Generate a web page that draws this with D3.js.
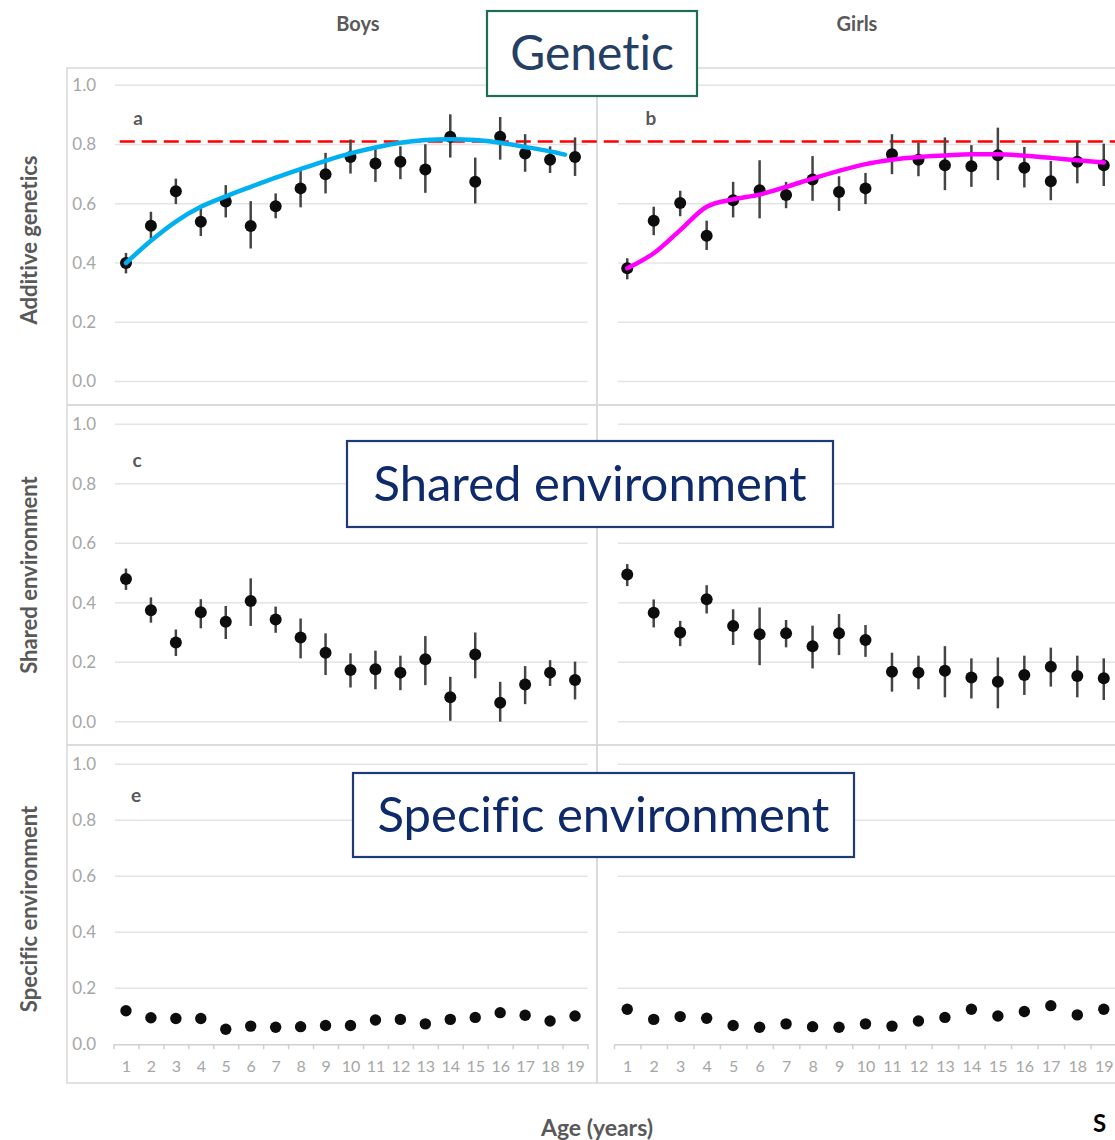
<!DOCTYPE html>
<html>
<head>
<meta charset="utf-8">
<script src="https://cdn.jsdelivr.net/npm/d3@7"></script>
<style>
  body { margin: 0; background: #fff; }
  text { font-family: Lato, "Open Sans", sans-serif; font-variant-ligatures: none; }
</style>
</head>
<body>
<svg id="chart"></svg>
<script>
// ages on the x axis
const ages = [1, 2, 3, 4, 5, 6, 7, 8, 9, 10, 11, 12, 13, 14, 15, 16, 17, 18, 19];
const yTicks = [0, 0.2, 0.4, 0.6, 0.8, 1.0];

// a / b : additive genetics
const boysGenetic     = [0.400, 0.526, 0.642, 0.539, 0.608, 0.525, 0.592, 0.652, 0.700, 0.758, 0.736, 0.742, 0.716, 0.826, 0.674, 0.826, 0.770, 0.749, 0.758];
const boysGeneticLow  = [0.365, 0.483, 0.599, 0.491, 0.554, 0.449, 0.551, 0.588, 0.635, 0.702, 0.674, 0.683, 0.637, 0.756, 0.601, 0.749, 0.708, 0.704, 0.694];
const boysGeneticHigh = [0.434, 0.573, 0.685, 0.584, 0.663, 0.609, 0.635, 0.713, 0.772, 0.817, 0.792, 0.794, 0.801, 0.902, 0.756, 0.893, 0.835, 0.794, 0.824];

const girlsGenetic     = [0.382, 0.543, 0.603, 0.492, 0.612, 0.646, 0.630, 0.682, 0.640, 0.652, 0.767, 0.749, 0.730, 0.727, 0.764, 0.722, 0.676, 0.742, 0.730];
const girlsGeneticLow  = [0.345, 0.494, 0.558, 0.444, 0.554, 0.551, 0.585, 0.610, 0.576, 0.599, 0.700, 0.693, 0.646, 0.657, 0.680, 0.655, 0.612, 0.669, 0.660];
const girlsGeneticHigh = [0.416, 0.590, 0.644, 0.543, 0.674, 0.747, 0.674, 0.761, 0.693, 0.704, 0.835, 0.806, 0.824, 0.798, 0.857, 0.792, 0.745, 0.809, 0.803];

// c / d : shared environment
const boysShared     = [0.480, 0.375, 0.266, 0.368, 0.336, 0.406, 0.344, 0.283, 0.232, 0.174, 0.176, 0.165, 0.210, 0.082, 0.226, 0.064, 0.125, 0.165, 0.140];
const boysSharedLow  = [0.443, 0.333, 0.221, 0.314, 0.278, 0.322, 0.299, 0.213, 0.157, 0.115, 0.109, 0.106, 0.123, 0.003, 0.146, 0.000, 0.059, 0.120, 0.075];
const boysSharedHigh = [0.515, 0.418, 0.310, 0.412, 0.389, 0.482, 0.387, 0.347, 0.297, 0.230, 0.239, 0.222, 0.288, 0.151, 0.300, 0.134, 0.187, 0.207, 0.202];

const girlsShared     = [0.495, 0.366, 0.300, 0.412, 0.322, 0.294, 0.297, 0.254, 0.297, 0.275, 0.168, 0.165, 0.171, 0.149, 0.134, 0.157, 0.185, 0.154, 0.146];
const girlsSharedLow  = [0.456, 0.317, 0.254, 0.364, 0.258, 0.190, 0.250, 0.179, 0.224, 0.218, 0.101, 0.109, 0.082, 0.078, 0.045, 0.090, 0.118, 0.082, 0.073];
const girlsSharedHigh = [0.530, 0.411, 0.339, 0.459, 0.378, 0.384, 0.342, 0.323, 0.362, 0.325, 0.232, 0.222, 0.254, 0.213, 0.216, 0.222, 0.249, 0.222, 0.213];

// e / f : specific environment
const boysSpecific  = [0.120, 0.095, 0.092, 0.092, 0.054, 0.065, 0.061, 0.063, 0.067, 0.067, 0.087, 0.089, 0.073, 0.089, 0.096, 0.113, 0.104, 0.083, 0.101];
const girlsSpecific = [0.125, 0.089, 0.099, 0.093, 0.067, 0.061, 0.073, 0.063, 0.061, 0.073, 0.065, 0.083, 0.096, 0.125, 0.101, 0.117, 0.138, 0.105, 0.125];

// hand drawn trend curves over the genetic panels
const boysTrendAges  = [1, 2, 3, 4, 5, 6, 7, 8, 9, 10, 11, 12, 13, 14, 15, 16, 17, 18, 18.6];
const boysTrend      = [0.400, 0.475, 0.540, 0.590, 0.625, 0.657, 0.688, 0.717, 0.745, 0.770, 0.790, 0.806, 0.815, 0.818, 0.815, 0.806, 0.792, 0.777, 0.766];
const girlsTrendAges = [1, 2, 3, 4, 5, 6, 7, 8, 9, 10, 11, 12, 13, 14, 15, 16, 17, 18, 19];
const girlsTrend     = [0.382, 0.433, 0.511, 0.590, 0.615, 0.631, 0.657, 0.685, 0.711, 0.734, 0.749, 0.758, 0.763, 0.767, 0.767, 0.762, 0.755, 0.747, 0.739];
const adultHeritability = 0.81;

const width = 1115, height = 1140;
const svg = d3.select('#chart').attr('width', width).attr('height', height);

// x scales for the two columns
const xBoys = d3.scaleLinear().domain([0.5, 19.5]).range([113.5, 587.5]);
const xGirls = d3.scaleLinear().domain([0.5, 19.5]).range([614, 1117]);
// y scales for the three rows
const yRows = [
  d3.scaleLinear().domain([0, 1]).range([381.5, 85.3]),
  d3.scaleLinear().domain([0, 1]).range([721.7, 424.3]),
  d3.scaleLinear().domain([0, 1]).range([1044.3, 764.3])
];
const rowFrames = [[68, 405], [405, 745], [745, 1083]];
const columns = [
  {x: xBoys, left: 67, right: 597, gridStart: 115, labels: true},
  {x: xGirls, left: 597, right: 1135, gridStart: 618, labels: false}
];

const fmt = d3.format('.1f');
const labelGrey = '#595959';

// frames + gridlines
rowFrames.forEach((fr, r) => {
  columns.forEach(col => {
    svg.append('rect')
      .attr('x', col.left).attr('y', fr[0])
      .attr('width', col.right - col.left).attr('height', fr[1] - fr[0])
      .attr('fill', 'none').attr('stroke', '#d9d9d9').attr('stroke-width', 1.5);

    const y = yRows[r];
    svg.append('g').selectAll('line')
      .data(r === 2 ? yTicks.slice(1) : yTicks)
      .join('line')
      .attr('x1', col.gridStart).attr('x2', col.x.range()[1])
      .attr('y1', d => y(d)).attr('y2', d => y(d))
      .attr('stroke', '#e4e4e4').attr('stroke-width', 1.5);

    if (col.labels) {
      svg.append('g').selectAll('text')
        .data(yTicks)
        .join('text')
        .attr('x', 96).attr('y', d => y(d))
        .attr('dy', '0.35em')
        .attr('text-anchor', 'end')
        .attr('font-size', 17)
        .attr('fill', '#a6a6a6')
        .text(d => fmt(d));
    }
  });
});

// bottom x axes
columns.forEach(col => {
  const y0 = yRows[2](0);
  const boundaries = ages.map(a => a - 0.5).concat([19.5]);
  const tickAxis = svg.append('g')
    .attr('transform', `translate(0, ${y0})`)
    .call(d3.axisBottom(col.x).tickValues(boundaries).tickSize(5).tickFormat('').tickSizeOuter(0));
  tickAxis.selectAll('line, path').attr('stroke', '#d0d0d0').attr('stroke-width', 1.5);

  const labelAxis = svg.append('g')
    .attr('transform', `translate(0, ${y0})`)
    .call(d3.axisBottom(col.x).tickValues(ages).tickSize(0).tickPadding(16));
  labelAxis.select('.domain').remove();
  labelAxis.selectAll('text')
    .attr('font-family', 'Lato, "Open Sans", sans-serif')
    .attr('font-size', 16).attr('fill', '#a6a6a6');
});

// red dashed reference line spanning both genetic panels
svg.append('line')
  .attr('x1', xBoys(0.75)).attr('x2', width)
  .attr('y1', yRows[0](adultHeritability)).attr('y2', yRows[0](adultHeritability))
  .attr('stroke', '#ff0000').attr('stroke-width', 2.5)
  .attr('stroke-dasharray', '15,7');

function drawPoints(x, y, mid, low, high, r) {
  const g = svg.append('g');
  if (low) {
    g.selectAll('line')
      .data(ages)
      .join('line')
      .attr('x1', d => x(d)).attr('x2', d => x(d))
      .attr('y1', (d, i) => y(low[i])).attr('y2', (d, i) => y(high[i]))
      .attr('stroke', '#444').attr('stroke-width', 2.5);
  }
  g.selectAll('circle')
    .data(ages)
    .join('circle')
    .attr('cx', d => x(d)).attr('cy', (d, i) => y(mid[i]))
    .attr('r', r)
    .attr('fill', '#0d0d0d');
}

function drawTrend(x, y, trAges, values, color) {
  const line = d3.line()
    .x((d, i) => x(trAges[i]))
    .y(d => y(d))
    .curve(d3.curveMonotoneX);
  svg.append('path')
    .datum(values)
    .attr('fill', 'none')
    .attr('stroke', color)
    .attr('stroke-width', 4.5)
    .attr('stroke-linecap', 'round')
    .attr('d', line);
}

drawPoints(xBoys, yRows[0], boysGenetic, boysGeneticLow, boysGeneticHigh, 6);
drawPoints(xGirls, yRows[0], girlsGenetic, girlsGeneticLow, girlsGeneticHigh, 6);
drawPoints(xBoys, yRows[1], boysShared, boysSharedLow, boysSharedHigh, 6);
drawPoints(xGirls, yRows[1], girlsShared, girlsSharedLow, girlsSharedHigh, 6);
drawPoints(xBoys, yRows[2], boysSpecific, null, null, 5.7);
drawPoints(xGirls, yRows[2], girlsSpecific, null, null, 5.7);

drawTrend(xBoys, yRows[0], boysTrendAges, boysTrend, '#00b0f0');
drawTrend(xGirls, yRows[0], girlsTrendAges, girlsTrend, '#ff00ff');

// panel letters
const panelLetters = [
  {t: 'a', x: 138, y: 118}, {t: 'b', x: 651, y: 118},
  {t: 'c', x: 137, y: 460}, {t: 'e', x: 136, y: 795}
];
svg.append('g').selectAll('text')
  .data(panelLetters)
  .join('text')
  .attr('x', d => d.x).attr('y', d => d.y)
  .attr('dy', '0.35em').attr('text-anchor', 'middle')
  .attr('font-size', 19).attr('font-weight', 'bold').attr('fill', labelGrey)
  .text(d => d.t);

// column titles
svg.append('text').attr('x', 358).attr('y', 24).attr('dy', '0.35em')
  .attr('text-anchor', 'middle').attr('font-size', 20).attr('font-weight', 'bold').attr('fill', labelGrey)
  .text('Boys');
svg.append('text').attr('x', 857).attr('y', 24).attr('dy', '0.35em')
  .attr('text-anchor', 'middle').attr('font-size', 20).attr('font-weight', 'bold').attr('fill', labelGrey)
  .text('Girls');

// y axis titles
const yTitles = [
  {t: 'Additive genetics', y: 240},
  {t: 'Shared environment', y: 575},
  {t: 'Specific environment', y: 909}
];
svg.append('g').selectAll('text')
  .data(yTitles)
  .join('text')
  .attr('transform', d => `translate(29, ${d.y}) rotate(-90)`)
  .attr('dy', '0.35em').attr('text-anchor', 'middle')
  .attr('font-size', 22).attr('font-weight', 'bold').attr('fill', labelGrey)
  .text(d => d.t);

// x axis title
svg.append('text').attr('x', 597).attr('y', 1128).attr('dy', '0.35em')
  .attr('text-anchor', 'middle').attr('font-size', 23).attr('font-weight', 'bold').attr('fill', labelGrey)
  .text('Age (years)');

// annotation boxes
const boxes = [
  {t: 'Genetic', size: 48, x: 487, y: 11, w: 210, h: 85, stroke: '#1d6d57', fill: '#243f63'},
  {t: 'Shared environment', size: 49, x: 347, y: 441, w: 486, h: 86, stroke: '#1f3a78', fill: '#0f2a6b'},
  {t: 'Specific environment', size: 49, x: 353, y: 773, w: 501, h: 84, stroke: '#1f3a78', fill: '#0f2a6b'}
];
const boxG = svg.append('g').selectAll('g')
  .data(boxes)
  .join('g');
boxG.append('rect')
  .attr('x', d => d.x).attr('y', d => d.y)
  .attr('width', d => d.w).attr('height', d => d.h)
  .attr('fill', '#fff').attr('stroke', d => d.stroke).attr('stroke-width', 2.2);
boxG.append('text')
  .attr('x', d => d.x + d.w / 2).attr('y', d => d.y + d.h / 2)
  .attr('dy', '0.35em').attr('text-anchor', 'middle')
  .attr('font-size', d => d.size).attr('fill', d => d.fill)
  .text(d => d.t);

// stray letter from the slide at the bottom edge
svg.append('text').attr('x', 1093).attr('y', 1132)
  .attr('font-family', '"Liberation Sans", Arial, sans-serif')
  .attr('font-size', 24).attr('font-weight', 'bold').attr('fill', '#000')
  .text('S');
</script>
</body>
</html>
